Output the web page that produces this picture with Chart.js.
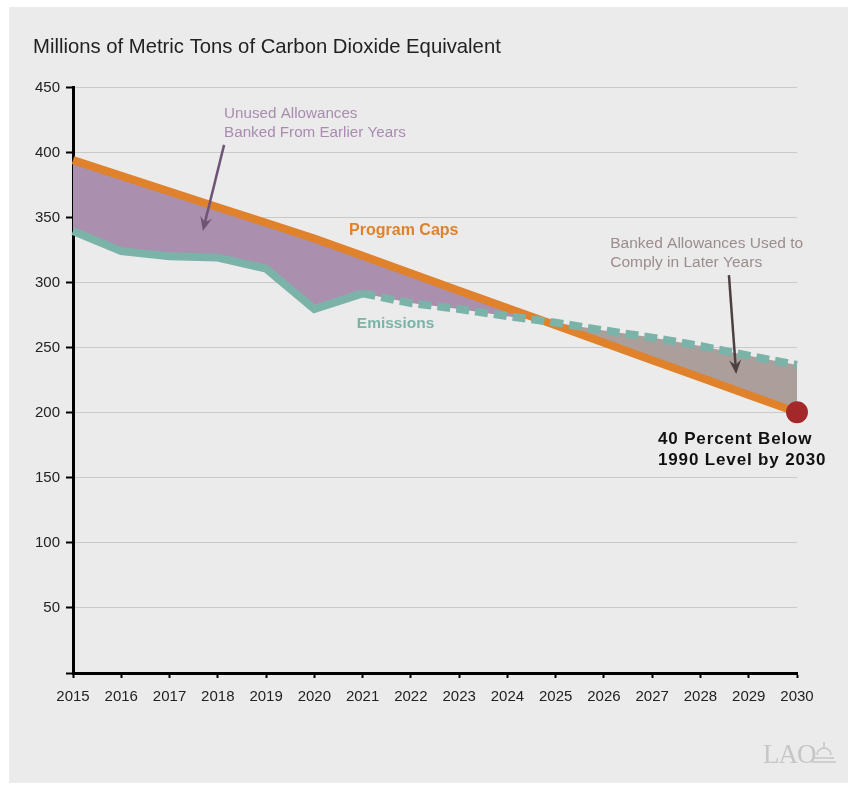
<!DOCTYPE html>
<html>
<head>
<meta charset="utf-8">
<script src="https://cdn.jsdelivr.net/npm/chart.js@4/dist/chart.umd.min.js"></script>
<style>
  html, body { margin: 0; padding: 0; background: #fff; }
  #panel { position: absolute; left: 9px; top: 7px; width: 839px; height: 776px; background: #ebebeb; }
  #chart { position: absolute; left: 0; top: 0; }
</style>
</head>
<body>
<div id="panel"></div>
<canvas id="chart" width="848" height="785"></canvas>
<script>
const years = ['2015', '2016', '2017', '2018', '2019', '2020', '2021', '2022',
  '2023', '2024', '2025', '2026', '2027', '2028', '2029', '2030'];
const programCaps = [394.5, 382.4, 370.4, 358.3, 346.3, 334.2, 320.9, 307.5,
  294.1, 280.7, 267.4, 254.0, 240.6, 227.3, 213.9, 200.5];
const emissions = [340, 324.5, 320.5, 319.5, 311, 280, 292, 284.5,
  280, 274.5, 269.5, 263.5, 258, 251.5, 244, 237];
const yTicks = [0, 50, 100, 150, 200, 250, 300, 350, 400, 450];
const lastActual = 6; // 2021 is the last measured year, dashed after

const FONT = '"Liberation Sans", Arial, Helvetica, sans-serif';

// index along the x axis (fractional years past 2015) and value on the y axis
const notes = [
  { lines: ['Unused Allowances', 'Banked From Earlier Years'], x: 3.13, y: [429.8, 415.2],
    color: '#a98bb0', font: '15.2px ' + FONT },
  { lines: ['Program Caps'], x: 5.72, y: [340], color: '#e0812b', font: 'bold 16px ' + FONT },
  { lines: ['Emissions'], x: 5.88, y: [268.5], color: '#7bb3a9', font: 'bold 15.5px ' + FONT },
  { lines: ['Banked Allowances Used to', 'Comply in Later Years'], x: 11.13, y: [330.5, 315.6],
    color: '#9b8d8b', font: '15.5px ' + FONT },
  { lines: ['40 Percent Below', '1990 Level by 2030'], x: 12.12, y: [180, 163.8],
    color: '#111', font: 'bold 17px ' + FONT, spacing: '0.85px' }
];
const arrows = [
  { from: [3.13, 406.2], to: [2.69, 340], color: '#6e5578' },
  { from: [13.59, 306], to: [13.74, 230], color: '#4b4141' }
];

const notesPlugin = {
  id: 'notes',
  afterDatasetsDraw(chart) {
    const ctx = chart.ctx;
    const xs = chart.scales.x, ys = chart.scales.y;
    ctx.save();
    ctx.textBaseline = 'middle';
    ctx.textAlign = 'left';
    notes.forEach(n => {
      ctx.font = n.font;
      ctx.fillStyle = n.color;
      ctx.letterSpacing = n.spacing || '0px';
      n.lines.forEach((t, i) => {
        ctx.fillText(t, xs.getPixelForValue(n.x), ys.getPixelForValue(n.y[i]));
      });
    });
    ctx.letterSpacing = '0px';
    arrows.forEach(a => {
      const x1 = xs.getPixelForValue(a.from[0]), y1 = ys.getPixelForValue(a.from[1]);
      const x2 = xs.getPixelForValue(a.to[0]), y2 = ys.getPixelForValue(a.to[1]);
      const ang = Math.atan2(y2 - y1, x2 - x1);
      ctx.strokeStyle = a.color;
      ctx.fillStyle = a.color;
      ctx.lineWidth = 2.5;
      ctx.beginPath();
      ctx.moveTo(x1, y1);
      ctx.lineTo(x2 - 6 * Math.cos(ang), y2 - 6 * Math.sin(ang));
      ctx.stroke();
      const len = 14, wid = 6;
      ctx.beginPath();
      ctx.moveTo(x2, y2);
      ctx.lineTo(x2 - len * Math.cos(ang) + wid * Math.sin(ang), y2 - len * Math.sin(ang) - wid * Math.cos(ang));
      ctx.lineTo(x2 - 9 * Math.cos(ang), y2 - 9 * Math.sin(ang));
      ctx.lineTo(x2 - len * Math.cos(ang) - wid * Math.sin(ang), y2 - len * Math.sin(ang) + wid * Math.cos(ang));
      ctx.closePath();
      ctx.fill();
    });
    // LAO mark
    ctx.fillStyle = '#c6c6c6';
    ctx.strokeStyle = '#c6c6c6';
    ctx.font = '27px "Liberation Serif", "DejaVu Serif", serif';
    ctx.letterSpacing = '-1px';
    ctx.textBaseline = 'alphabetic';
    ctx.fillText('LAO', 763, 763);
    ctx.letterSpacing = '0px';
    ctx.lineWidth = 1.5;
    ctx.beginPath();
    ctx.arc(824, 755, 7, Math.PI, 0);
    ctx.moveTo(814, 758); ctx.lineTo(834, 758);
    ctx.moveTo(812, 762); ctx.lineTo(836, 762);
    ctx.moveTo(824, 748); ctx.lineTo(824, 742);
    ctx.stroke();
    ctx.restore();
  }
};

new Chart(document.getElementById('chart'), {
  type: 'line',
  data: {
    labels: years,
    datasets: [{
      label: 'Emissions',
      data: emissions,
      borderColor: '#7bb3a9',
      borderWidth: 8,
      borderCapStyle: 'butt',
      borderJoinStyle: 'miter',
      pointRadius: 0,
      tension: 0,
      fill: false,
      segment: {
        borderDash: c => c.p0DataIndex >= lastActual ? [13, 6] : undefined
      }
    }, {
      label: 'Program Caps',
      data: programCaps,
      borderColor: '#e0812b',
      borderWidth: 8,
      borderCapStyle: 'butt',
      tension: 0,
      fill: false,
      pointRadius: c => c.dataIndex === years.length - 1 ? 11 : 0,
      pointHoverRadius: 0,
      pointBackgroundColor: '#a3282a',
      pointBorderWidth: 0
    }, {
      // shaded gap between emissions and caps (no line of its own)
      label: 'Banked',
      data: emissions,
      borderWidth: 0,
      pointRadius: 0,
      tension: 0,
      fill: { target: 1, above: '#ac9e9b', below: '#ab8fae' }
    }]
  },
  options: {
    responsive: false,
    animation: false,
    layout: { padding: { top: 0, left: 33, right: 51, bottom: 0 } },
    plugins: {
      legend: { display: false },
      tooltip: { enabled: false },
      filler: { drawTime: 'beforeDatasetsDraw' },
      title: {
        display: true,
        text: 'Millions of Metric Tons of Carbon Dioxide Equivalent',
        align: 'start',
        color: '#222',
        font: { family: FONT, size: 20.3, weight: 'normal', lineHeight: 1.2 },
        padding: { top: 35, bottom: 28.6 }
      }
    },
    scales: {
      x: {
        offset: false,
        afterFit: s => { s.height = 112; },
        border: { display: true, color: '#000', width: 3 },
        grid: { display: true, drawOnChartArea: false, tickLength: 5, tickColor: '#000', tickWidth: 2 },
        ticks: { color: '#222', font: { family: FONT, size: 15 }, padding: 10, maxRotation: 0, autoSkip: false }
      },
      y: {
        min: yTicks[0],
        max: yTicks[yTicks.length - 1],
        afterFit: s => { s.width = 40; },
        afterBuildTicks: s => { s.ticks = yTicks.map(v => ({ value: v })); },
        border: { display: true, color: '#000', width: 3 },
        grid: { color: '#c9c9c9', lineWidth: 1, tickLength: 7, tickColor: '#000', tickWidth: 2 },
        ticks: {
          color: '#222',
          font: { family: FONT, size: 15 },
          padding: 6,
          callback: v => v === 0 ? '' : v
        }
      }
    }
  },
  plugins: [notesPlugin]
});
</script>
</body>
</html>
